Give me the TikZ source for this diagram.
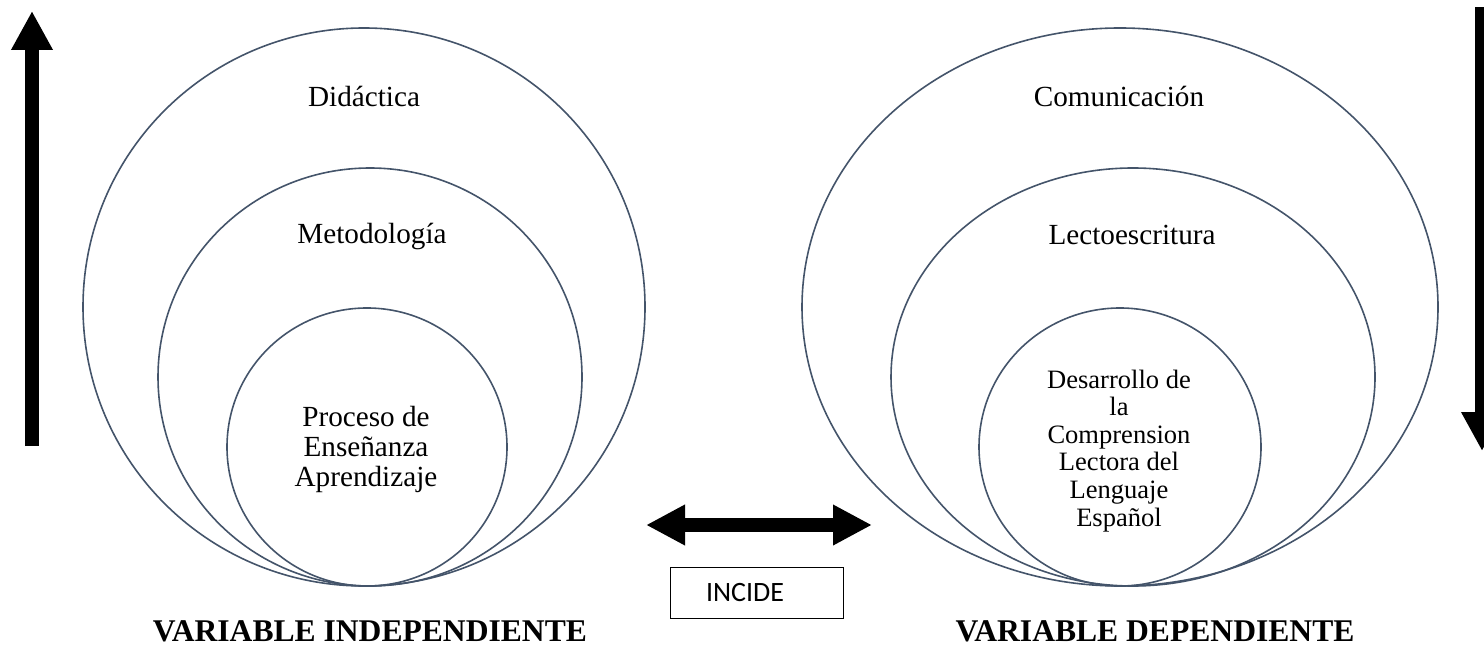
\documentclass[tikz,border=0pt]{standalone}
\usepackage{fontspec}
\setmainfont{Liberation Serif}
\newfontfamily\calibrifont{Carlito}
\usetikzlibrary{arrows.meta}

\definecolor{ringblue}{RGB}{68,84,106}

\tikzset{every picture/.style={line width=0.75pt}}
\tikzset{
  ring/.style={draw=ringblue, line width=1.2pt},
  blockarrow/.style={line width=10.5pt, -{Triangle[length=29.25pt,width=29.25pt]}},
  twowayarrow/.style={line width=10.5pt, {Triangle[length=29.25pt,width=28.5pt]}-{Triangle[length=29.25pt,width=28.5pt]}},
  lbl/.style={inner sep=0.75pt, font={\fontsize{21.9}{22.5}\selectfont}},
  lblsmall/.style={inner sep=0.75pt, font={\fontsize{19.9}{20.7}\selectfont}},
  varlbl/.style={inner sep=0.75pt, font={\fontsize{23.7}{26}\selectfont\bfseries}}
}

\begin{document}
\begin{tikzpicture}[x=0.75pt,y=0.75pt,yscale=-1,xscale=1]
\useasboundingbox (0,0) rectangle (1484,648);

%Shape: Ellipse left outer
\draw[ring] (364,307) ellipse (281 and 279);
%Shape: Ellipse left middle
\draw[ring] (370,377) ellipse (212 and 209);
%Shape: Ellipse left inner
\draw[ring] (367,447) ellipse (140 and 139);
%Shape: Ellipse right outer
\draw[ring] (1120,307) ellipse (318 and 279);
%Shape: Ellipse right middle
\draw[ring] (1133,377) ellipse (242 and 209);
%Shape: Ellipse right inner
\draw[ring] (1120,447) ellipse (141 and 139);

% Arrow ends
\coordinate (upfoot) at (32,446);
\coordinate (uptip) at (32,11);
\coordinate (downfoot) at (1482,7);
\coordinate (downtip) at (1482,451);
\coordinate (twowayleft) at (646,525);
\coordinate (twowayright) at (872,525);

%Shape: Arrows
\draw[blockarrow] (upfoot) -- (uptip);
\draw[blockarrow] (downfoot) -- (downtip);
\draw[twowayarrow] (twowayleft) -- (twowayright);

% Text Node
\node[lbl, anchor=base] (didactica) at (364,107) {Didáctica};
% Text Node
\node[lbl, anchor=base] (metodologia) at (372,244) {Metodología};
% Text Node
\node[lbl, anchor=base, align=center] (proceso) at (366,486) {Proceso de\\Enseñanza\\Aprendizaje};
% Text Node
\node[lbl, anchor=base] (comunicacion) at (1119,107) {Comunicación};
% Text Node
\node[lbl, anchor=base] (lectoescritura) at (1132,245) {Lectoescritura};
% Text Node
\node[lblsmall, anchor=base, align=center] (desarrollo) at (1119,526) {Desarrollo de\\la\\Comprension\\Lectora del\\Lenguaje\\Español};
% Text Node
\node[draw, line width=0.75pt, minimum height=38.25pt, inner xsep=27pt, text width=75.75pt, align=left, font={\calibrifont\fontsize{21}{24}\selectfont}] (incide) at (756.5,592.5) {INCIDE};
% Text Node
\node[varlbl, anchor=base] (independiente) at (370,641) {VARIABLE INDEPENDIENTE};
% Text Node
\node[varlbl, anchor=base] (dependiente) at (1155,641) {VARIABLE DEPENDIENTE};

\end{tikzpicture}
\end{document}
